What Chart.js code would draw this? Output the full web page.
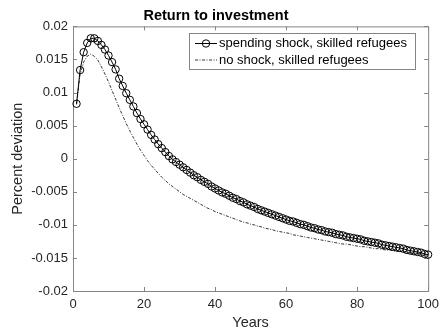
<!DOCTYPE html>
<html>
<head>
<meta charset="utf-8">
<script src="https://cdn.jsdelivr.net/npm/chart.js@4.4.1/dist/chart.umd.min.js"></script>
<style>
  body { margin: 0; background: #fff; }
  #wrap { width: 445px; height: 336px; }
</style>
</head>
<body>
<div id="wrap"><canvas id="chart" width="445" height="336"></canvas></div>
<script>
// Data
const years = [1,2,3,4,5,6,7,8,9,10,11,12,13,14,15,16,17,18,19,20,
  21,22,23,24,25,26,27,28,29,30,31,32,33,34,35,36,37,38,39,40,
  41,42,43,44,45,46,47,48,49,50,51,52,53,54,55,56,57,58,59,60,
  61,62,63,64,65,66,67,68,69,70,71,72,73,74,75,76,77,78,79,80,
  81,82,83,84,85,86,87,88,89,90,91,92,93,94,95,96,97,98,99,100];

const spendingShock = [0.0083,0.0134,0.0161,0.0175,0.0182,0.0182,0.0178,0.0172,0.0165,0.0156,
  0.0146,0.0135,0.0121,0.0110,0.0099,0.0089,0.0079,0.0069,0.0060,0.0052,
  0.0044,0.0036,0.0029,0.0022,0.0016,0.0010,0.0004,-0.0001,-0.0005,-0.0009,
  -0.0013,-0.0017,-0.0021,-0.0025,-0.0028,-0.0032,-0.0035,-0.0038,-0.0042,-0.0045,
  -0.0048,-0.0051,-0.0053,-0.0056,-0.0059,-0.0061,-0.0064,-0.0066,-0.0069,-0.0071,
  -0.0073,-0.0076,-0.0078,-0.0080,-0.0082,-0.0084,-0.0086,-0.0088,-0.0090,-0.0092,
  -0.0094,-0.0095,-0.0097,-0.0099,-0.0100,-0.0102,-0.0104,-0.0105,-0.0107,-0.0108,
  -0.0110,-0.0111,-0.0112,-0.0114,-0.0115,-0.0116,-0.0118,-0.0119,-0.0120,-0.0121,
  -0.0122,-0.0124,-0.0125,-0.0126,-0.0127,-0.0128,-0.0130,-0.0131,-0.0132,-0.0133,
  -0.0134,-0.0135,-0.0136,-0.0138,-0.0139,-0.0140,-0.0141,-0.0142,-0.0144,-0.0145];

const noShock = [0.0082,0.0128,0.0146,0.0155,0.0158,0.0155,0.0149,0.0139,0.0128,0.0116,
  0.0103,0.0090,0.0077,0.0065,0.0053,0.0042,0.0032,0.0022,0.0013,0.0005,
  -0.0003,-0.0010,-0.0016,-0.0022,-0.0028,-0.0033,-0.0038,-0.0042,-0.0046,-0.0050,
  -0.0054,-0.0057,-0.0060,-0.0063,-0.0066,-0.0069,-0.0072,-0.0075,-0.0077,-0.0080,
  -0.0082,-0.0084,-0.0086,-0.0088,-0.0090,-0.0092,-0.0094,-0.0096,-0.0097,-0.0099,
  -0.0100,-0.0102,-0.0103,-0.0105,-0.0106,-0.0107,-0.0109,-0.0110,-0.0111,-0.0112,
  -0.0113,-0.0115,-0.0116,-0.0117,-0.0118,-0.0119,-0.0120,-0.0121,-0.0122,-0.0123,
  -0.0124,-0.0125,-0.0126,-0.0127,-0.0128,-0.0129,-0.0129,-0.0130,-0.0131,-0.0132,
  -0.0133,-0.0133,-0.0134,-0.0135,-0.0136,-0.0136,-0.0137,-0.0138,-0.0138,-0.0139,
  -0.0140,-0.0140,-0.0141,-0.0141,-0.0142,-0.0143,-0.0143,-0.0144,-0.0145,-0.0146];

const xTicks = [0, 20, 40, 60, 80, 100];
const yTicks = [-0.02, -0.015, -0.01, -0.005, 0, 0.005, 0.01, 0.015, 0.02];
const yTickLabels = ["-0.02", "-0.015", "-0.01", "-0.005", "0", "0.005", "0.01", "0.015", "0.02"];
const seriesNames = ["spending shock, skilled refugees", "no shock, skilled refugees"];

const FONT = "'Liberation Sans', Arial, sans-serif";
const TEXT = "#262626";
const AXIS = "#858585";
const DASH = [3, 1.5, 1, 1.5];
const MARKER = 3.7;

// box round the axes with inward ticks, like matlab
const framePlugin = {
  id: "frame",
  beforeDatasetsDraw(chart) {
    const { ctx, chartArea: a, scales } = chart;
    ctx.save();
    ctx.strokeStyle = AXIS;
    ctx.lineWidth = 1;
    ctx.strokeRect(a.left + 0.5, a.top + 0.5, a.right - a.left, a.bottom - a.top);
    ctx.beginPath();
    const len = 4;
    xTicks.forEach(v => {
      const x = Math.round(scales.x.getPixelForValue(v)) + 0.5;
      ctx.moveTo(x, a.bottom); ctx.lineTo(x, a.bottom - len);
      ctx.moveTo(x, a.top); ctx.lineTo(x, a.top + len);
    });
    yTicks.forEach(v => {
      const y = Math.round(scales.y.getPixelForValue(v)) + 0.5;
      ctx.moveTo(a.left, y); ctx.lineTo(a.left + len, y);
      ctx.moveTo(a.right, y); ctx.lineTo(a.right - len, y);
    });
    ctx.stroke();
    ctx.restore();
  }
};

// legend box in the top right corner
const legendPlugin = {
  id: "boxLegend",
  afterDatasetsDraw(chart) {
    const ctx = chart.ctx;
    const x0 = 189.5, y0 = 33.5, w = 226, h = 36;
    ctx.save();
    ctx.fillStyle = "#fff";
    ctx.fillRect(x0, y0, w, h);
    ctx.strokeStyle = AXIS;
    ctx.lineWidth = 1;
    ctx.strokeRect(x0, y0, w, h);

    const rows = [43.5, 60];
    ctx.strokeStyle = "#000";
    // row 1: line with circle
    ctx.beginPath();
    ctx.moveTo(195, rows[0]); ctx.lineTo(217, rows[0]);
    ctx.stroke();
    ctx.beginPath();
    ctx.arc(206, rows[0], MARKER, 0, Math.PI * 2);
    ctx.stroke();
    // row 2: dash-dot line
    ctx.lineWidth = 0.8;
    ctx.setLineDash(DASH);
    ctx.beginPath();
    ctx.moveTo(195, rows[1]); ctx.lineTo(217, rows[1]);
    ctx.stroke();
    ctx.setLineDash([]);

    ctx.fillStyle = "#000";
    ctx.font = "13px " + FONT;
    ctx.textBaseline = "middle";
    ctx.textAlign = "left";
    ctx.fillText(seriesNames[0], 219, rows[0]);
    ctx.fillText(seriesNames[1], 219, rows[1]);
    ctx.restore();
  }
};

const ctx = document.getElementById("chart").getContext("2d");

new Chart(ctx, {
  type: "line",
  data: {
    datasets: [{
      label: seriesNames[0],
      data: years.map((t, i) => ({ x: t, y: spendingShock[i] })),
      borderColor: "#000",
      borderWidth: 1,
      pointRadius: MARKER,
      pointBorderWidth: 1,
      pointBorderColor: "#000",
      pointBackgroundColor: "rgba(0,0,0,0)",
      tension: 0
    }, {
      label: seriesNames[1],
      data: years.map((t, i) => ({ x: t, y: noShock[i] })),
      borderColor: "#000",
      borderWidth: 0.8,
      borderDash: DASH,
      pointRadius: 0,
      tension: 0
    }]
  },
  options: {
    responsive: false,
    animation: false,
    clip: false,
    layout: { padding: { left: 0, right: 13, top: 0, bottom: 0 } },
    plugins: {
      legend: { display: false },
      tooltip: { enabled: false },
      title: {
        display: true,
        text: "Return to investment",
        color: "#000",
        font: { family: FONT, size: 14.5, weight: "bold" },
        padding: { top: 7, bottom: 2 }
      }
    },
    scales: {
      x: {
        type: "linear",
        min: 0,
        max: 100,
        afterBuildTicks: s => { s.ticks = xTicks.map(v => ({ value: v })); },
        afterFit: s => { s.height = 45; },
        grid: { display: false, drawTicks: false, tickLength: 0 },
        border: { display: false },
        ticks: {
          color: TEXT,
          font: { family: FONT, size: 13 },
          padding: 6,
          maxRotation: 0
        },
        title: {
          display: true,
          text: "Years",
          color: TEXT,
          font: { family: FONT, size: 14.5 },
          padding: { top: 0, bottom: 4 }
        }
      },
      y: {
        type: "linear",
        min: -0.02,
        max: 0.02,
        afterBuildTicks: s => { s.ticks = yTicks.map(v => ({ value: v })); },
        afterFit: s => { s.width = 73; },
        grid: { display: false, drawTicks: false, tickLength: 0 },
        border: { display: false },
        ticks: {
          color: TEXT,
          font: { family: FONT, size: 13 },
          padding: 5,
          callback: (v, i) => yTickLabels[i]
        },
        title: {
          display: true,
          text: "Percent deviation",
          color: TEXT,
          font: { family: FONT, size: 14.5 },
          padding: { top: 9, bottom: 0 }
        }
      }
    }
  },
  plugins: [framePlugin, legendPlugin]
});
</script>
</body>
</html>
